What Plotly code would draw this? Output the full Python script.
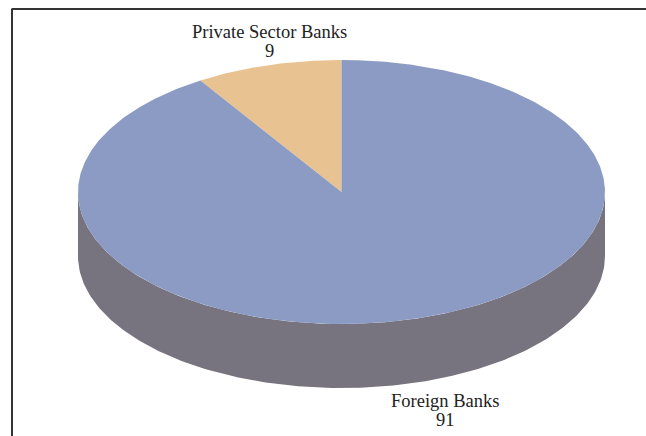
import numpy as np
import plotly.graph_objects as go

# Share of banks by sector
categories = ["Foreign Banks", "Private Sector Banks"]
values = [91, 9]

top_colors = {"Foreign Banks": "#8b9bc4", "Private Sector Banks": "#e8c290"}
side_color = "#77737f"

W, H = 646, 436
cx, cy = 341.5, 192.0      # centre of the pie's top face
rx, ry = 263.5, 132.0      # projected radii of the tilted disc
depth = 64.0               # thickness of the disc


def ellipse_pt(t_deg, dy=0.0):
    t = np.radians(t_deg)
    return cx + rx * np.cos(t), cy - ry * np.sin(t) + dy


fig = go.Figure()

# Front wall of the disc (visible lower half)
ts = np.linspace(180, 360, 200)
top_x, top_y = ellipse_pt(ts)
bot_x, bot_y = ellipse_pt(ts[::-1], depth)
fig.add_trace(go.Scatter(
    x=np.concatenate([top_x, bot_x]), y=np.concatenate([top_y, bot_y]),
    fill="toself", fillcolor=side_color, mode="lines",
    line=dict(width=0, color=side_color), hoverinfo="skip", showlegend=False))

# Top face slices: start at 12 o'clock and sweep counter-clockwise
total = float(sum(values))
angle = 90.0
for name in ["Private Sector Banks", "Foreign Banks"]:
    v = values[categories.index(name)]
    sweep = 360.0 * v / total
    ts = np.linspace(angle, angle + sweep, max(int(sweep * 2), 20))
    ex, ey = ellipse_pt(ts)
    xs = np.concatenate([[cx], ex, [cx]])
    ys = np.concatenate([[cy], ey, [cy]])
    fig.add_trace(go.Scatter(
        x=xs, y=ys, fill="toself", fillcolor=top_colors[name], mode="lines",
        line=dict(width=0, color=top_colors[name]),
        name=name, hoverinfo="name", showlegend=False))
    angle += sweep

# Data labels: category name with its value on the line below
label_pos = {"Private Sector Banks": (269, 32), "Foreign Banks": (445, 401)}
label_font = dict(family="Liberation Serif, DejaVu Serif, serif", size=18.5, color="#222222")
for name, v in zip(categories, values):
    x, y = label_pos[name]
    fig.add_annotation(x=x, y=y, xref="x", yref="y", showarrow=False,
                       text=name, font=label_font)
    fig.add_annotation(x=x, y=y + 18.5, xref="x", yref="y", showarrow=False,
                       text=str(v), font=label_font)

# Frame lines along top and left edges
fig.add_shape(type="line", x0=11.5, y0=9, x1=W, y1=9, xref="x", yref="y",
              line=dict(color="#333333", width=2))
fig.add_shape(type="line", x0=12, y0=9, x1=12, y1=H, xref="x", yref="y",
              line=dict(color="#333333", width=2))

fig.update_layout(
    width=W, height=H, margin=dict(l=0, r=0, t=0, b=0),
    paper_bgcolor="white", plot_bgcolor="white",
    xaxis=dict(range=[0, W], visible=False, fixedrange=True),
    yaxis=dict(range=[H, 0], visible=False, fixedrange=True),
)

fig.write_html("out.html")
